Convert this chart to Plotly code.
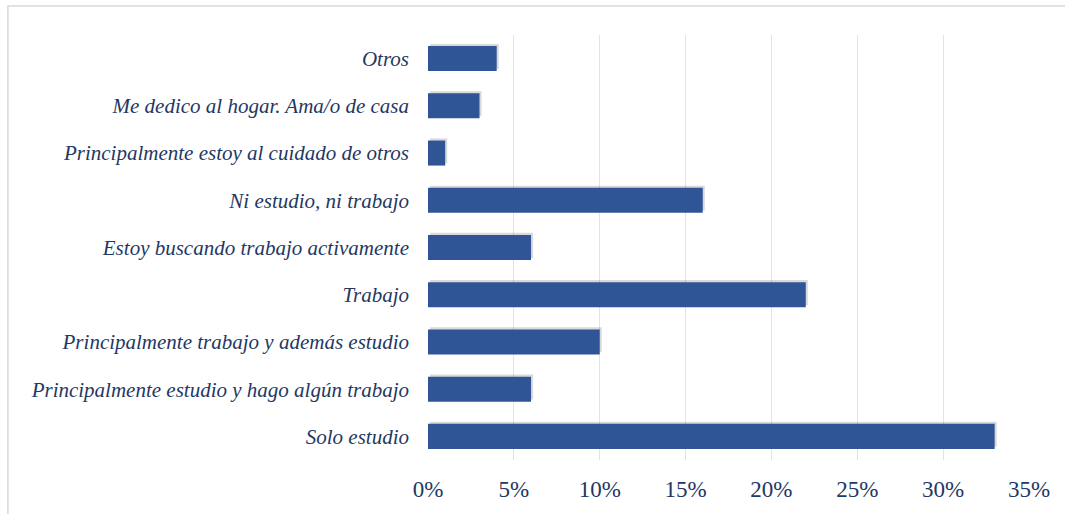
import plotly.graph_objects as go

# Situación ocupacional (porcentaje de respuestas), de abajo hacia arriba
categorias = [
    "Solo estudio",
    "Principalmente estudio y hago algún trabajo",
    "Principalmente trabajo y además estudio",
    "Trabajo",
    "Estoy buscando trabajo activamente",
    "Ni estudio, ni trabajo",
    "Principalmente estoy al cuidado de otros",
    "Me dedico al hogar. Ama/o de casa",
    "Otros",
]
porcentajes = [33, 6, 10, 22, 6, 16, 1, 3, 4]
ticks_x = [0, 5, 10, 15, 20, 25, 30, 35]
etiquetas_x = ["0%", "5%", "10%", "15%", "20%", "25%", "30%", "35%"]

azul = "#2F5597"
texto = "#1F3864"
fuente = "'Liberation Serif', 'Times New Roman', serif"

fig = go.Figure()

# sombra suave detrás de cada barra
fig.add_trace(go.Bar(
    x=porcentajes, y=categorias, orientation="h",
    marker=dict(color="rgba(0,0,0,0.15)", line=dict(width=0)),
    width=0.53, offset=-0.22, base=0.12,
    hoverinfo="skip", showlegend=False,
))
fig.add_trace(go.Bar(
    x=porcentajes, y=categorias, orientation="h",
    marker=dict(color=azul, line=dict(width=0)),
    width=0.53, offset=-0.265,
    showlegend=False,
))

fig.update_layout(
    width=1065, height=514,
    margin=dict(l=428, r=36, t=35, b=51),
    paper_bgcolor="white", plot_bgcolor="white",
    barmode="overlay",
    font=dict(family=fuente, color=texto),
    xaxis=dict(
        range=[0, 35], tickvals=ticks_x, ticktext=etiquetas_x,
        showgrid=True, gridcolor="#dfe3ea", gridwidth=1,
        zeroline=False, showline=False, ticks="",
        tickfont=dict(family=fuente, size=23, color=texto),
        ticklabelstandoff=13,
    ),
    yaxis=dict(
        categoryorder="array", categoryarray=categorias,
        range=[-0.5, 8.5],
        tickvals=categorias,
        ticktext=[f"<i>{c}</i>" for c in categorias],
        showgrid=False, zeroline=False, showline=False, ticks="",
        tickfont=dict(family=fuente, size=21, color=texto),
        ticklabelstandoff=18,
    ),
    shapes=[
        dict(type="rect", xref="paper", yref="paper",
             x0=-0.699, x1=1.2, y0=-0.3, y1=1.068,
             line=dict(color="#d9d9d9", width=1.5), fillcolor="rgba(0,0,0,0)",
             layer="below"),
    ],
)

fig.write_html("out.html")
